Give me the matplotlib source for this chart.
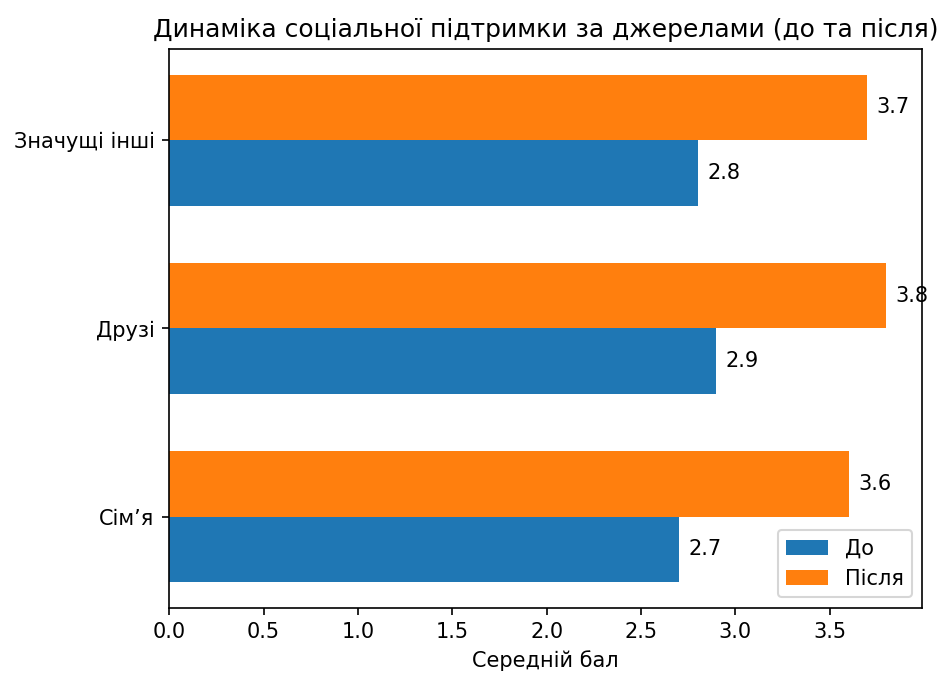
import matplotlib
matplotlib.use('Agg')
import matplotlib.pyplot as plt
import numpy as np

# дані
sources = ['Сім’я', 'Друзі', 'Значущі інші']
before = [2.7, 2.9, 2.8]
after = [3.6, 3.8, 3.7]

fig, ax = plt.subplots(figsize=(940 / 150, 673 / 150), dpi=150)
fig.subplots_adjust(left=0.18, right=0.981, bottom=0.097, top=0.927)

y = np.arange(len(sources))
h = 0.35
b1 = ax.barh(y - h / 2, before, h, label='До', color='#1f77b4')
b2 = ax.barh(y + h / 2, after, h, label='Після', color='#ff7f0e')

for bars in (b1, b2):
    for bar in bars:
        w = bar.get_width()
        ax.text(w + 0.05, bar.get_y() + bar.get_height() / 2, f'{w:.1f}',
                va='center', ha='left')

ax.set_yticks(y)
ax.set_yticklabels(sources)
ax.set_xlabel('Середній бал')
ax.set_title('Динаміка соціальної підтримки за джерелами (до та після)')
ax.set_xlim(0, max(after) * 1.05)
ax.legend(loc='lower right')

plt.savefig('out.png', dpi=150)
